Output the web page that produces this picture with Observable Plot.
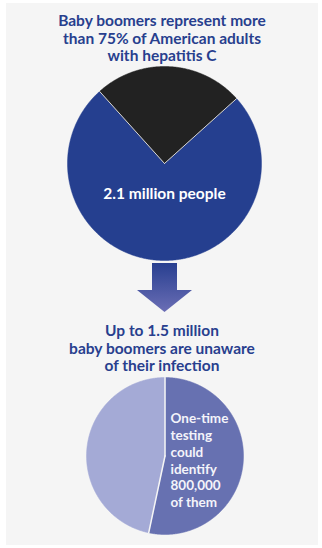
<!DOCTYPE html>
<html><head><meta charset="utf-8">
<script src="https://cdn.jsdelivr.net/npm/d3@7"></script>
<script src="https://cdn.jsdelivr.net/npm/@observablehq/plot@0.6"></script>
<style>
html,body{margin:0;padding:0;background:#fff;}
#wrap{position:relative;width:322px;height:548px;overflow:hidden;font-family:Lato,sans-serif;}
#panel{position:absolute;left:6px;top:3px;width:312px;height:542px;background:#f5f5f5;}
.title{position:absolute;left:0;width:324px;text-align:center;color:#283f8e;font-weight:700;font-size:15.5px;line-height:17.5px;margin:0;}
#t1{top:12px;}
#t2{top:322px;}
.pie{position:absolute;left:0;}
#p1{top:63px;}
#p2{top:374px;}
#arrow{position:absolute;left:0;top:0;}
</style></head>
<body>
<div id="wrap">
  <div id="panel"></div>
  <div class="title" id="t1">Baby boomers represent more<br>than 75% of American adults<br>with hepatitis C</div>
  <svg id="arrow" width="322" height="548">
    <defs><linearGradient id="ag" x1="0" y1="0" x2="0" y2="1">
      <stop offset="0" stop-color="#283f90"/><stop offset="1" stop-color="#6b6eb5"/>
    </linearGradient></defs>
    <polygon points="152,263 177,263 177,290 192,290 164.5,312 137,290 152,290" fill="url(#ag)"/>
  </svg>
  <div class="pie" id="p1"></div>
  <div class="title" id="t2">Up to 1.5 million<br>baby boomers are unaware<br>of their infection</div>
  <div class="pie" id="p2"></div>
</div>
<script>
// Pie 1: share of American adults with hepatitis C
const pie1Labels = ["Baby boomers", "Other adults"];
const pie1Values = [75, 25];
const pie1Text = ["2.1 million people"];

// Pie 2: the 1.5 million unaware baby boomers
const pie2Labels = ["Identified by one-time testing", "Not identified"];
const pie2Values = [800000, 700000];
const pie2Text = ["One-time\ntesting\ncould\nidentify\n800,000\nof them"];

function slicePoints(labels, values, start) {
  const total = d3.sum(values);
  let acc = 0;
  const pts = [], bounds = [];
  labels.forEach((lab, i) => {
    const a0 = start + acc / total, a1 = start + (acc + values[i]) / total;
    acc += values[i];
    pts.push({slice: lab, x: 0, y: 0});
    const n = Math.max(2, Math.ceil((a1 - a0) * 720));
    for (let k = 0; k <= n; k++) {
      const t = 2 * Math.PI * (a0 + (a1 - a0) * k / n);
      pts.push({slice: lab, x: Math.sin(t), y: Math.cos(t)});
    }
    pts.push({slice: lab, x: 0, y: 0});
    const t0 = 2 * Math.PI * a0;
    bounds.push({id: i, x: 0, y: 0}, {id: i, x: Math.sin(t0), y: Math.cos(t0)});
  });
  return {pts, bounds};
}

const font = "Lato, sans-serif";

const s1 = slicePoints(pie1Labels, pie1Values, 48 / 360);
const plot1 = Plot.plot({
  width: 322, height: 200,
  marginLeft: 67, marginRight: 61, marginTop: 3, marginBottom: 3,
  x: {domain: [-1, 1], axis: null},
  y: {domain: [-1, 1], axis: null},
  color: {domain: pie1Labels, range: ["#253f8f", "#222222"]},
  style: {background: "transparent", overflow: "visible", fontFamily: font},
  marks: [
    Plot.line(s1.pts, {x: "x", y: "y", z: "slice", fill: "slice", stroke: "slice", strokeWidth: 0.5}),
    Plot.line(s1.bounds, {x: "x", y: "y", z: "id", stroke: "#d8d8d8", strokeWidth: 1}),
    Plot.text(pie1Text, {x: 0, y: -0.31, text: d => d, fill: "white", fontSize: 15.5, fontWeight: 700})
  ]
});
document.getElementById("p1").appendChild(plot1);

const s2 = slicePoints(pie2Labels, pie2Values, 0);
const plot2 = Plot.plot({
  width: 322, height: 163,
  marginLeft: 86, marginRight: 79, marginTop: 3, marginBottom: 3,
  x: {domain: [-1, 1], axis: null},
  y: {domain: [-1, 1], axis: null},
  color: {domain: pie2Labels, range: ["#6771b1", "#a4aad6"]},
  style: {background: "transparent", overflow: "visible", fontFamily: font},
  marks: [
    Plot.line(s2.pts, {x: "x", y: "y", z: "slice", fill: "slice", stroke: "slice", strokeWidth: 0.5}),
    Plot.line(s2.bounds, {x: "x", y: "y", z: "id", stroke: "#f5f5f5", strokeWidth: 1.5}),
    Plot.text(pie2Text, {x: 0.07, y: -0.05, text: d => d, textAnchor: "start", fill: "#f4f4fa", fontSize: 13.5, fontWeight: 700, lineHeight: 1.24})
  ]
});
document.getElementById("p2").appendChild(plot2);
</script>
</body></html>
